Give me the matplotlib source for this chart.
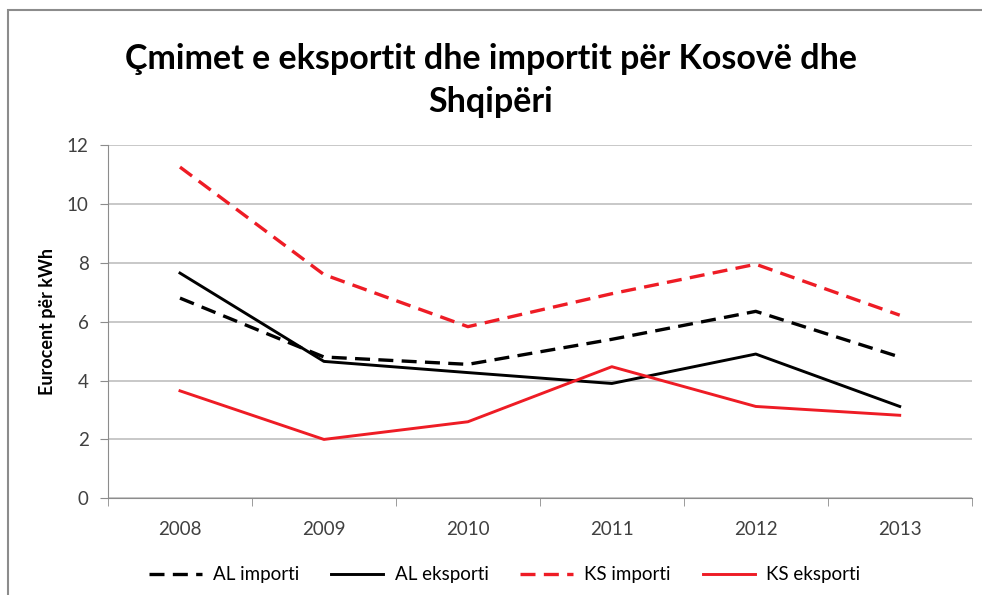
import matplotlib.pyplot as plt
import numpy as np
from matplotlib.patches import Rectangle

years = ["2008", "2009", "2010", "2011", "2012", "2013"]
al_importi = [6.8, 4.8, 4.55, 5.4, 6.35, 4.8]
al_eksporti = [7.65, 4.65, 4.27, 3.9, 4.9, 3.12]
ks_importi = [11.25, 7.6, 5.83, 6.95, 7.95, 6.22]
ks_eksporti = [3.65, 2.0, 2.6, 4.47, 3.12, 2.82]

plt.rcParams['font.family'] = ['Lato', 'DejaVu Sans']

fig = plt.figure(figsize=(9.82, 5.95), dpi=100)
ax = fig.add_axes([0.110, 0.1625, 0.8795, 0.5938])

# chart frame (runs off the bottom and right of the picture)
fig.patches.append(Rectangle((0.008, -0.1), 1.2, 1.083, transform=fig.transFigure,
                             fill=False, edgecolor="#8c8c8c", linewidth=1.5))

x = np.arange(len(years))
red = "#ee1c25"
dash = (0, (4.5, 2.5))
ax.plot(x, al_importi, color="black", lw=2.4, ls=dash, label="AL importi")
ax.plot(x, al_eksporti, color="black", lw=2.1, label="AL eksporti")
ax.plot(x, ks_importi, color=red, lw=2.4, ls=dash, label="KS importi")
ax.plot(x, ks_eksporti, color=red, lw=2.1, label="KS eksporti")

ax.set_xlim(-0.5, len(years) - 0.5)
ax.set_ylim(0, 12)
ax.set_yticks(range(0, 13, 2))
ax.set_xticks(x)
ax.set_xticklabels(years)
ax.set_xticks(np.arange(-0.5, len(years), 1), minor=True)
ax.tick_params(axis="x", which="major", length=0, labelsize=13.5, pad=16, labelcolor="#404040")
ax.tick_params(axis="x", which="minor", length=6, color="#8c8c8c")
ax.tick_params(axis="y", length=6, color="#8c8c8c", labelsize=13.5, pad=8, labelcolor="#404040")
ax.grid(axis="y", color="#bfbfbf", lw=1.2)
ax.set_axisbelow(True)
for s in ["top", "right"]:
    ax.spines[s].set_visible(False)
for s in ["left", "bottom"]:
    ax.spines[s].set_color("#8c8c8c")
ax.set_ylabel("Eurocent për kWh", fontsize=13, fontweight="bold", labelpad=8)

fig.text(0.5, 0.865, "Çmimet e eksportit dhe importit për Kosovë dhe\nShqipëri",
         ha="center", va="center", fontsize=24.5, fontweight="bold", linespacing=1.42)

fig.legend(*ax.get_legend_handles_labels(), loc="center", bbox_to_anchor=(0.514, 0.034),
           ncol=4, frameon=False, fontsize=13.5, handlelength=2.8, columnspacing=1.7,
           handletextpad=0.6)

fig.savefig("out.png", dpi=100, facecolor="white")
